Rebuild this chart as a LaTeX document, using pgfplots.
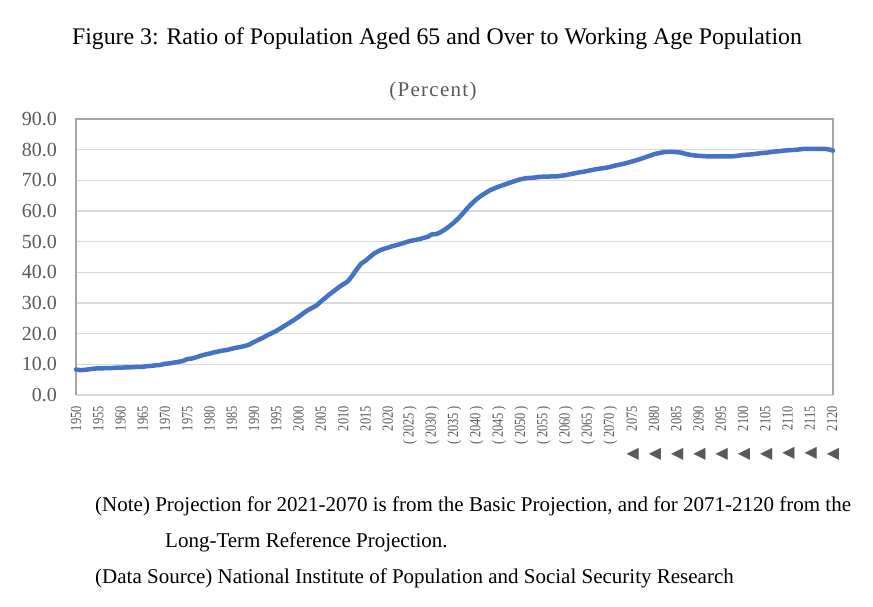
\documentclass[border=0pt]{standalone}
\usepackage{fontspec}
\setmainfont{Liberation Serif}
\newfontfamily\dejavu{DejaVu Sans}
\newfontfamily\widefont[LetterSpace=6]{Liberation Serif}
\newfontfamily\narrowfont[FakeStretch=0.8]{Liberation Serif}
\usepackage{pgfplots}
\pgfplotsset{compat=1.18}
\usepackage{pgfplotstable}

\definecolor{lineblue}{HTML}{4472C4}
\definecolor{gridgray}{HTML}{D9D9D9}
\definecolor{framegray}{HTML}{A6A6A6}
\definecolor{labelgray}{HTML}{595959}

% ratio of population aged 65+ to population aged 15-64 (%)
\pgfplotstableread{
year ratio
1950 8.3
1951 8.1
1952 8.2
1953 8.4
1954 8.6
1955 8.7
1956 8.7
1957 8.8
1958 8.8
1959 8.9
1960 8.9
1961 9.0
1962 9.0
1963 9.1
1964 9.2
1965 9.2
1966 9.4
1967 9.5
1968 9.7
1969 9.8
1970 10.2
1971 10.3
1972 10.6
1973 10.8
1974 11.1
1975 11.7
1976 11.9
1977 12.3
1978 12.8
1979 13.2
1980 13.5
1981 13.9
1982 14.2
1983 14.5
1984 14.7
1985 15.1
1986 15.4
1987 15.7
1988 16.0
1989 16.5
1990 17.3
1991 18.0
1992 18.7
1993 19.5
1994 20.2
1995 20.9
1996 21.8
1997 22.7
1998 23.6
1999 24.5
2000 25.5
2001 26.6
2002 27.6
2003 28.4
2004 29.2
2005 30.5
2006 31.7
2007 32.9
2008 34.0
2009 35.1
2010 36.1
2011 37.0
2012 38.8
2013 40.9
2014 42.8
2015 43.8
2016 45.0
2017 46.2
2018 47.0
2019 47.6
2020 48.0
2021 48.5
2022 48.9
2023 49.3
2024 49.8
2025 50.2
2026 50.5
2027 50.8
2028 51.2
2029 51.6
2030 52.4
2031 52.5
2032 53.2
2033 54.1
2034 55.2
2035 56.4
2036 57.8
2037 59.4
2038 61.1
2039 62.6
2040 63.9
2041 65.0
2042 65.9
2043 66.8
2044 67.4
2045 68.0
2046 68.5
2047 69.0
2048 69.5
2049 70.0
2050 70.4
2051 70.7
2052 70.8
2053 70.9
2054 71.1
2055 71.2
2056 71.2
2057 71.3
2058 71.3
2059 71.5
2060 71.7
2061 72.0
2062 72.3
2063 72.6
2064 72.8
2065 73.1
2066 73.4
2067 73.7
2068 73.9
2069 74.1
2070 74.4
2071 74.8
2072 75.1
2073 75.4
2074 75.8
2075 76.2
2076 76.6
2077 77.1
2078 77.6
2079 78.1
2080 78.6
2081 78.9
2082 79.2
2083 79.3
2084 79.3
2085 79.2
2086 79.0
2087 78.6
2088 78.3
2089 78.1
2090 78.0
2091 77.9
2092 77.8
2093 77.8
2094 77.8
2095 77.8
2096 77.8
2097 77.8
2098 77.9
2099 78.1
2100 78.3
2101 78.4
2102 78.5
2103 78.7
2104 78.9
2105 79.0
2106 79.2
2107 79.4
2108 79.5
2109 79.7
2110 79.8
2111 79.9
2112 80.0
2113 80.2
2114 80.3
2115 80.3
2116 80.3
2117 80.3
2118 80.3
2119 80.1
2120 79.7
}\ratiotable

\newcommand{\proj}[1]{(\hspace{2.5pt}#1\hspace{2.5pt})}
\newcommand{\lt}[1]{{\dejavu\fontsize{16}{16}\selectfont ▲}\hspace{17pt}#1}

\begin{document}
\begin{tikzpicture}[x=1pt,y=1pt]
\path[use as bounding box] (0,0) rectangle (873,606);

\node[font=\fontsize{23.8}{26}\selectfont] at (437,567)
  {Figure 3: Ratio of Population Aged 65 and Over to Working Age Population};
\node[font=\widefont\fontsize{21}{23}\selectfont, text=labelgray] at (433,515) {(Percent)};

\node[anchor=base west, inner sep=0pt, font=\fontsize{21}{23}\selectfont] at (95,95)
  {(Note) Projection for 2021-2070 is from the Basic Projection, and for 2071-2120 from the};
\node[anchor=base west, inner sep=0pt, font=\fontsize{21}{23}\selectfont] at (165,59)
  {Long-Term Reference Projection.};
\node[anchor=base west, inner sep=0pt, font=\fontsize{21}{23}\selectfont] at (95,23)
  {(Data Source) National Institute of Population and Social Security Research};

\begin{axis}[
    at={(76pt,211pt)},
    anchor=south west,
    scale only axis,
    width=757pt,
    height=276pt,
    xmin=1950, xmax=2120,
    ymin=0, ymax=90,
    ytick={0,10,...,90},
    xtick={1950,1955,...,2120},
    xticklabels={1950,1955,1960,1965,1970,1975,1980,1985,1990,1995,
        2000,2005,2010,2015,2020,
        \proj{2025},\proj{2030},\proj{2035},\proj{2040},\proj{2045},
        \proj{2050},\proj{2055},\proj{2060},\proj{2065},\proj{2070},
        \lt{2075},\lt{2080},\lt{2085},\lt{2090},\lt{2095},
        \lt{2100},\lt{2105},\lt{2110},\lt{2115},\lt{2120}},
    x tick label style={yshift=-11pt, rotate=90, anchor=east, text=labelgray,
        inner sep=0pt, font=\narrowfont\fontsize{15.5}{16}\selectfont},
    y tick label style={text=labelgray, inner sep=0pt, anchor=east,
        font=\fontsize{20}{20}\selectfont, xshift=-19pt},
    /pgf/number format/.cd, fixed, fixed zerofill, precision=1, assume math mode=true,
    /pgfplots/.cd,
    major tick length=0pt,
    tick style={draw=none},
    ymajorgrids,
    grid style={draw=gridgray, line width=1.5pt},
    axis line style={draw=none},
    clip=false,
]
\draw[framegray, line width=1.5pt] (rel axis cs:0,0) -- (rel axis cs:0,1)
    -- (rel axis cs:1,1) -- (rel axis cs:1,0);
\addplot[lineblue, line width=4.5pt, line join=round, line cap=round] table[x=year, y=ratio] {\ratiotable};
\end{axis}
\end{tikzpicture}
\end{document}
